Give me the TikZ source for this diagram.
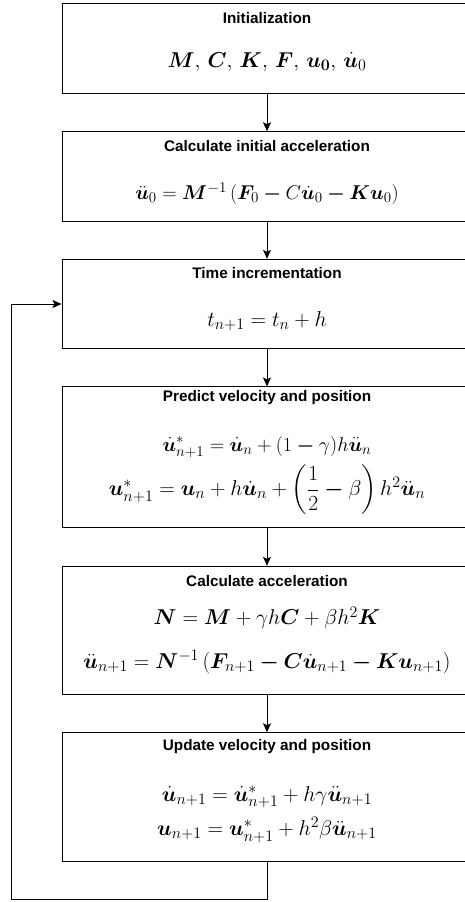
\RequirePackage{fix-cm}
\documentclass[tikz,border=0pt]{standalone}
\usepackage{amsmath}
\usepackage{bm}
\usepackage{fontspec}
\newfontfamily\titlefont{Liberation Sans}
\usetikzlibrary{arrows.meta}
\DeclareMathSizes{21.5}{21.5}{16}{12}
\DeclareMathSizes{20}{20}{15}{11}

\newcommand{\bmin}{\bm{-}}

\tikzset{
  stepbox/.style={draw, line width=1pt, minimum width=410pt, inner sep=0pt},
  steptitle/.style={font=\titlefont\bfseries\fontsize{15.3}{18}\selectfont},
  eqn/.style={font=\fontsize{21.5}{25}\selectfont, inner sep=0pt},
  smalleqn/.style={eqn, font=\fontsize{20}{24}\selectfont},
  flow/.style={-{Stealth[length=9pt,width=8pt,inset=2pt]}, line width=1pt}
}

\begin{document}
\begin{tikzpicture}[x=1pt, y=-1pt]
    \useasboundingbox (0,0) rectangle (464,902);

    % boxes
    \node[stepbox, minimum height=90pt] (init) at (267,48) {};
    \node[stepbox, minimum height=89.3pt] (acc0) at (267,176.4) {};
    \node[stepbox, minimum height=89.4pt] (time) at (267,304) {};
    \node[stepbox, minimum height=140.7pt] (pred) at (267,457.3) {};
    \node[stepbox, minimum height=128pt] (acc) at (267,630.3) {};
    \node[stepbox, minimum height=128.3pt] (upd) at (267,796.9) {};

    % titles
    \node[steptitle] (initT) at (267,18) {Initialization};
    \node[steptitle] (acc0T) at (267,146) {Calculate initial acceleration};
    \node[steptitle] (timeT) at (267,273) {Time incrementation};
    \node[steptitle] (predT) at (267,398) {Predict velocity and position};
    \node[steptitle] (accT) at (267,581) {Calculate acceleration};
    \node[steptitle] (updT) at (267,747) {Update velocity and position};

    % equations
    \node[eqn] (initE) at (267,62) {$\bm{M},\, \bm{C},\, \bm{K},\, \bm{F},\, \bm{u_0},\, \dot{\bm{u}}_0$};
    \node[smalleqn] (acc0E) at (267,194) {$\ddot{\bm{u}}_0 = \bm{M}^{-1}\,(\bm{F}_0 \bmin C\dot{\bm{u}}_0 \bmin \bm{K}\bm{u}_0)$};
    \node[eqn] (timeE) at (267,321) {$t_{n+1} = t_n + h$};
    \node[smalleqn] (predE1) at (267,447) {$\dot{\bm{u}}^*_{n+1} = \dot{\bm{u}}_n + (1\bmin\gamma)h\ddot{\bm{u}}_n$};
    \node[eqn] (predE2) at (267,490) {$\bm{u}^*_{n+1} = \bm{u}_n + h\dot{\bm{u}}_n + \left(\dfrac{1}{2}\bmin\beta\right)h^2\ddot{\bm{u}}_n$};
    \node[eqn] (accE1) at (267,618) {$\bm{N} = \bm{M} + \gamma h\bm{C} + \beta h^2\bm{K}$};
    \node[eqn] (accE2) at (267,662) {$\ddot{\bm{u}}_{n+1} = \bm{N}^{-1}\,(\bm{F}_{n+1} \bmin \bm{C}\dot{\bm{u}}_{n+1} \bmin \bm{K}\bm{u}_{n+1})$};
    \node[eqn] (updE1) at (267,797) {$\dot{\bm{u}}_{n+1} = \dot{\bm{u}}^*_{n+1} + h\gamma\ddot{\bm{u}}_{n+1}$};
    \node[eqn] (updE2) at (267,830) {$\bm{u}_{n+1} = \bm{u}^*_{n+1} + h^2\beta\ddot{\bm{u}}_{n+1}$};

    % arrows
    \draw[flow] (init) -- (acc0);
    \draw[flow] (acc0) -- (time);
    \draw[flow] (time) -- (pred);
    \draw[flow] (pred) -- (acc);
    \draw[flow] (acc) -- (upd);

    % loop back
    \coordinate (loopcorner) at (11,899);
    \draw[flow] (upd.south) |- (loopcorner) |- (time.west);
\end{tikzpicture}
\end{document}
